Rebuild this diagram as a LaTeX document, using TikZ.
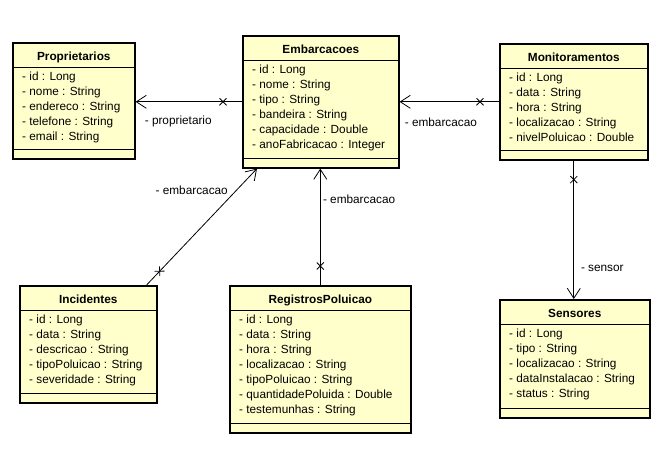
\documentclass[tikz,border=0pt]{standalone}
\usepackage{fontspec}
\setmainfont{Liberation Sans}
\usetikzlibrary{calc,arrows.meta,decorations.markings}
\definecolor{classfill}{RGB}{255,255,204}

\begin{document}
\begin{tikzpicture}[x=1pt,y=-1pt,font=\fontsize{11.8}{15}\selectfont]
	\tikzstyle{umlclass}=[draw,line width=1.6pt,fill=classfill,inner sep=0pt,anchor=north west]
	\tikzstyle{classname}=[font=\fontsize{11.8}{15}\selectfont\bfseries,inner sep=0pt,anchor=base]
	\tikzstyle{attr}=[inner sep=0pt,anchor=base west]
	\tikzstyle{role}=[inner sep=0pt,anchor=base west]
	\tikzstyle{assoc}=[line width=0.8pt,-{Straight Barb[length=10pt,width=13pt]}]
	\tikzstyle{xend}=[postaction={decorate,decoration={markings,mark=at position 19pt with {\draw[-,line width=0.8pt] (-3.5,-3.5) -- (3.5,3.5) (-3.5,3.5) -- (3.5,-3.5);}}}]
	
	\useasboundingbox (0,0) rectangle (660,455);
	
	\foreach \name/\x/\y/\w/\h/\title/\attrs in {
		prop/12/42/122/116/Proprietarios/{id : Long, nome : String, endereco : String, telefone : String, email : String},
		emb/242/35/156/132/Embarcacoes/{id : Long, nome : String, tipo : String, bandeira : String, capacidade : Double, anoFabricacao : Integer},
		mon/499/43/148/116/Monitoramentos/{id : Long, data : String, hora : String, localizacao : String, nivelPoluicao : Double},
		inc/19/285/137/117/Incidentes/{id : Long, data : String, descricao : String, tipoPoluicao : String, severidade : String},
		reg/229/285/181/147/RegistrosPoluicao/{id : Long, data : String, hora : String, localizacao : String, tipoPoluicao : String, quantidadePoluida : Double, testemunhas : String},
		sen/499/299/150/118/Sensores/{id : Long, tipo : String, localizacao : String, dataInstalacao : String, status : String}}
	{
		\node[umlclass,minimum width=\w pt,minimum height=\h pt] (C-\name) at (\x,\y) {};
		\node[classname] at ($(C-\name.north)+(0,18)$) {\title};
		\draw[line width=0.8pt] ($(C-\name.north west)+(0,25.5)$) -- ($(C-\name.north east)+(0,25.5)$);
		\draw[line width=0.8pt] ($(C-\name.south west)+(0,-10.5)$) -- ($(C-\name.south east)+(0,-10.5)$);
		\foreach \a [count=\i] in \attrs
		\node[attr] at ($(C-\name.north west)+(10,23+15*\i)$) {- \a};
	}
	
	% associations, x on the owning side
	\draw[assoc,xend] (C-emb.west) -- (C-emb.west -| C-prop.east);
	\draw[assoc,xend] (C-mon.west) -- (C-mon.west -| C-emb.east);
	\draw[assoc,xend] ([xshift=-11pt]C-inc.north east) -- ([xshift=15pt]C-emb.south west);
	\draw[assoc,xend] (C-reg.north) -- (C-reg.north |- C-emb.south);
	\draw[assoc,xend] (C-mon.south) -- (C-mon.south |- C-sen.north);
	
	\node[role] (L-prop) at ($(C-prop.east)+(9,24)$) {- proprietario};
	\node[role] (L-mon) at ($(C-emb.east)+(5,25)$) {- embarcacao};
	\node[role,anchor=base east] (L-inc) at ($(C-emb.south west)+(-14,26)$) {- embarcacao};
	\node[role] (L-reg) at ($(C-emb.south)+(2,35)$) {- embarcacao};
	\node[role] (L-sen) at ($(C-sen.north)+(6,-28)$) {- sensor};
\end{tikzpicture}
\end{document}
